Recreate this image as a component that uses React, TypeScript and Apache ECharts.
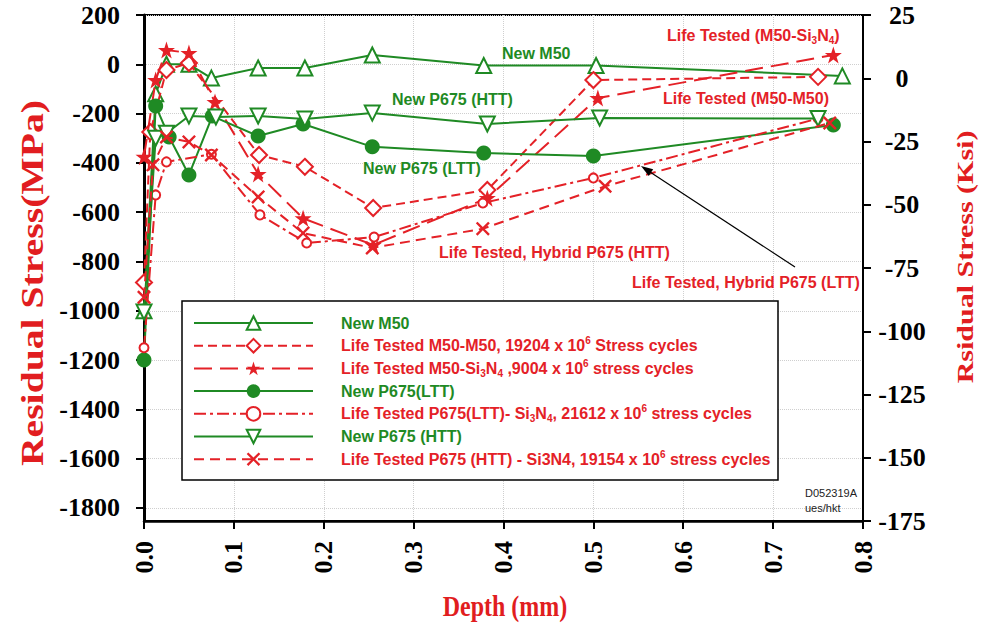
import React, { useEffect, useRef } from 'react';
import * as echarts from 'echarts';

// ---- colours and fonts ----
const GREEN = '#1f8a24';
const RED = '#e42127';
const TITLE_RED = '#e11d20';
const SERIF = '"Liberation Serif", "Times New Roman", serif';
const SANS = '"Liberation Sans", Arial, sans-serif';

// ---- axis ticks ----
const mpaTicks = [200, 0, -200, -400, -600, -800, -1000, -1200, -1400, -1600, -1800];
const ksiMin = -175;
const ksiMax = 25;
const ksiStep = 25;

// ---- residual stress profiles: depth (mm) and stress (MPa) ----
const newM50Depth = [0, 0.013, 0.025, 0.05, 0.075, 0.127, 0.179, 0.254, 0.378, 0.503, 0.777];
const newM50Stress = [-1000, -120, 0, 0, -56, -15, -15, 38, -5, -5, -47];

const lifeM50M50Depth = [0, 0.007, 0.025, 0.05, 0.128, 0.179, 0.255, 0.382, 0.5, 0.75];
const lifeM50M50Stress = [-885, -275, -23, 5, -368, -416, -583, -510, -64, -51];

const lifeM50SiDepth = [0, 0.013, 0.025, 0.05, 0.079, 0.127, 0.177, 0.255, 0.382, 0.505, 0.767];
const lifeM50SiStress = [-375, -64, 58, 46, -153, -445, -625, -733, -543, -137, 38];

const newLttDepth = [0, 0.013, 0.028, 0.05, 0.076, 0.127, 0.177, 0.254, 0.378, 0.5, 0.767];
const newLttStress = [-1200, -169, -295, -449, -210, -291, -242, -335, -360, -372, -246];

const lifeLttDepth = [0, 0.013, 0.025, 0.075, 0.129, 0.181, 0.256, 0.377, 0.5, 0.75];
const lifeLttStress = [-1150, -530, -396, -365, -611, -725, -701, -563, -461, -220];

const newHttDepth = [0, 0.013, 0.025, 0.05, 0.08, 0.127, 0.179, 0.254, 0.382, 0.507, 0.75];
const newHttStress = [-1005, -300, -280, -210, -214, -210, -222, -198, -242, -218, -220];

const lifeHttDepth = [0, 0.01, 0.025, 0.05, 0.075, 0.127, 0.177, 0.254, 0.377, 0.513, 0.763];
const lifeHttStress = [-945, -408, -295, -315, -368, -538, -685, -745, -667, -495, -238];

// ---- legend entries ----
const seriesNames = [
  'New M50',
  'Life Tested M50-M50, 19204 x 10^6 Stress cycles',
  'Life Tested M50-Si3N4 ,9004 x 10^6 stress cycles',
  'New P675(LTT)',
  'Life Tested P675(LTT)- Si3N4, 21612 x 10^6 stress cycles',
  'New P675 (HTT)',
  'Life Tested P675 (HTT) - Si3N4, 19154 x 10^6 stress cycles',
];
const legendLabels = [
  'New M50',
  'Life Tested M50-M50, 19204 x 10{sup|6} Stress cycles',
  'Life Tested M50-Si{sub|3}N{sub|4} ,9004 x 10{sup|6} stress cycles',
  'New P675(LTT)',
  'Life Tested P675(LTT)- Si{sub|3}N{sub|4}, 21612 x 10{sup|6} stress cycles',
  'New P675 (HTT)',
  'Life Tested P675 (HTT) - Si3N4, 19154 x 10{sup|6} stress cycles',
];

const STAR = 'path://M50,0L61.8,35.3L99,35.3L69,57.1L80.4,92.7L50,70.7L19.6,92.7L31,57.1L1,35.3L38.2,35.3Z';
const CROSS = 'path://M0,1.2L1.2,0L5,3.8L8.8,0L10,1.2L6.2,5L10,8.8L8.8,10L5,6.2L1.2,10L0,8.8L3.8,5Z';

type Def = {
  depth: number[];
  stress: number[];
  color: string;
  dash: any;
  symbol: string;
  size: number;
  rotate?: number;
};

const defs: Def[] = [
  { depth: newM50Depth, stress: newM50Stress, color: GREEN, dash: 'solid', symbol: 'emptyTriangle', size: 15 },
  { depth: lifeM50M50Depth, stress: lifeM50M50Stress, color: RED, dash: [9, 5], symbol: 'emptyDiamond', size: 16 },
  { depth: lifeM50SiDepth, stress: lifeM50SiStress, color: RED, dash: [18, 8], symbol: STAR, size: 17 },
  { depth: newLttDepth, stress: newLttStress, color: GREEN, dash: 'solid', symbol: 'circle', size: 15 },
  { depth: lifeLttDepth, stress: lifeLttStress, color: RED, dash: [12, 4, 3, 4], symbol: 'emptyCircle', size: 9 },
  { depth: newHttDepth, stress: newHttStress, color: GREEN, dash: 'solid', symbol: 'emptyTriangle', size: 15, rotate: 180 },
  { depth: lifeHttDepth, stress: lifeHttStress, color: RED, dash: [10, 6], symbol: CROSS, size: 14 },
];

const richSupSub = (color: string) => ({
  sup: { fontSize: 10, fontFamily: SANS, fontWeight: 'bold', color, lineHeight: 10, verticalAlign: 'top' },
  sub: { fontSize: 10, fontFamily: SANS, fontWeight: 'bold', color, lineHeight: 10, verticalAlign: 'bottom' },
});

const annotation = (text: string, x: number, y: number, fill: string) => ({
  type: 'text',
  x,
  y,
  z: 10,
  style: {
    text,
    fill,
    fontFamily: SANS,
    fontWeight: 'bold',
    fontSize: 16,
    lineHeight: 20,
    align: 'left',
    verticalAlign: 'middle',
    rich: {
      sub: { fontSize: 10, fontFamily: SANS, fontWeight: 'bold', fill, lineHeight: 10, verticalAlign: 'bottom' },
    },
  },
});

function buildOption() {
  const series = defs.map((d, i) => ({
    type: 'line',
    name: seriesNames[i],
    data: d.depth.map((x, k) => [x, d.stress[k]]),
    xAxisIndex: 0,
    yAxisIndex: 0,
    symbol: d.symbol,
    symbolSize: d.size,
    symbolRotate: d.rotate || 0,
    showAllSymbol: true,
    lineStyle: { color: d.color, width: 2, type: d.dash },
    itemStyle: { color: d.color },
    emphasis: { disabled: true },
    z: 3 + i,
  }));

  return {
    animation: false,
    backgroundColor: '#fff',
    grid: {
      left: 144,
      right: 122,
      top: 15,
      bottom: 102,
      show: true,
      borderColor: '#000',
      borderWidth: 2,
      containLabel: false,
      outerBoundsMode: 'none',
    },
    xAxis: {
      type: 'value',
      min: 0,
      max: 0.8,
      interval: 0.1,
      axisLine: { show: true, onZero: false, lineStyle: { color: '#000', width: 2.5 } },
      axisTick: { show: true, length: 8, lineStyle: { color: '#000', width: 2 } },
      axisLabel: {
        rotate: 90,
        margin: 20,
        formatter: (v: number) => v.toFixed(1),
        fontFamily: SERIF,
        fontWeight: 'bold',
        fontSize: 26,
        color: '#000',
      },
      splitLine: { show: true, lineStyle: { color: '#cfcfcf', type: 'dotted', width: 1 } },
    },
    yAxis: [
      {
        type: 'value',
        position: 'left',
        min: -1853,
        max: 200,
        axisLine: { show: true, onZero: false, lineStyle: { color: '#000', width: 3 } },
        axisTick: { show: true, length: 8, customValues: mpaTicks, lineStyle: { color: '#000', width: 2 } },
        axisLabel: {
          customValues: mpaTicks,
          formatter: (v: number) => String(v),
          margin: 24,
          fontFamily: SERIF,
          fontWeight: 'bold',
          fontSize: 26,
          color: '#000',
        },
        splitLine: { show: true, lineStyle: { color: '#cfcfcf', type: 'dotted', width: 1 } },
      },
      {
        type: 'value',
        position: 'right',
        min: ksiMin,
        max: ksiMax,
        interval: ksiStep,
        axisLine: { show: true, onZero: false, lineStyle: { color: '#000', width: 2 } },
        axisTick: { show: true, length: 8, lineStyle: { color: '#000', width: 2 } },
        axisLabel: {
          margin: 39,
          align: 'center',
          formatter: (v: number) => String(v),
          fontFamily: SERIF,
          fontWeight: 'bold',
          fontSize: 26,
          color: '#000',
        },
        splitLine: { show: false },
      },
    ],
    legend: {
      orient: 'vertical',
      left: 182,
      top: 301,
      itemWidth: 119,
      itemHeight: 17,
      itemGap: 2.7,
      padding: [12, 8, 11, 11],
      borderWidth: 0,
      backgroundColor: 'transparent',
      selectedMode: false,
      data: seriesNames.map((n, i) => ({ name: n, textStyle: { color: defs[i].color } })),
      formatter: (name: string) => legendLabels[seriesNames.indexOf(name)],
      textStyle: {
        fontFamily: SANS,
        fontWeight: 'bold',
        fontSize: 16,
        lineHeight: 20,
        padding: [0, 0, 0, 23],
        rich: richSupSub(RED),
      },
    },
    series,
    graphic: [
      // legend frame
      {
        type: 'rect',
        z: 1,
        shape: { x: 182, y: 301, width: 596, height: 179 },
        style: { fill: '#fff', stroke: '#000', lineWidth: 1.5 },
      },
      {
        type: 'text',
        x: 32,
        y: 283,
        rotation: Math.PI / 2,
        scaleX: 1.24,
        style: {
          text: 'Residual Stress(MPa)',
          fontFamily: SERIF,
          fontWeight: 'bold',
          fontSize: 32,
          fill: TITLE_RED,
          align: 'center',
          verticalAlign: 'middle',
        },
      },
      {
        type: 'text',
        x: 965,
        y: 257,
        rotation: Math.PI / 2,
        scaleX: 1.25,
        style: {
          text: 'Rsidual Stress (Ksi)',
          fontFamily: SERIF,
          fontWeight: 'bold',
          fontSize: 24,
          fill: TITLE_RED,
          align: 'center',
          verticalAlign: 'middle',
        },
      },
      {
        type: 'text',
        x: 505,
        y: 606,
        scaleY: 1.2,
        style: {
          text: 'Depth (mm)',
          fontFamily: SERIF,
          fontWeight: 'bold',
          fontSize: 24,
          fill: TITLE_RED,
          align: 'center',
          verticalAlign: 'middle',
        },
      },
      annotation('Life Tested (M50-Si{sub|3}N{sub|4})', 667, 35, RED),
      annotation('Life Tested (M50-M50)', 663, 98, RED),
      annotation('New M50', 502, 53, GREEN),
      annotation('New P675 (HTT)', 392, 99, GREEN),
      annotation('New P675 (LTT)', 363, 168, GREEN),
      annotation('Life Tested, Hybrid P675 (HTT)', 439, 252, RED),
      annotation('Life Tested, Hybrid P675 (LTT)', 632, 282, RED),
      {
        type: 'line',
        z: 10,
        shape: { x1: 795, y1: 267, x2: 650, y2: 172 },
        style: { stroke: '#000', lineWidth: 1.2 },
      },
      {
        type: 'polygon',
        z: 10,
        shape: { points: [[641, 166], [653.2, 169.2], [648.8, 175.9]] },
        style: { fill: '#000' },
      },
      {
        type: 'text',
        x: 805,
        y: 493,
        z: 10,
        style: { text: 'D052319A', fontFamily: SANS, fontSize: 11, fill: '#222', verticalAlign: 'middle' },
      },
      {
        type: 'text',
        x: 805,
        y: 508,
        z: 10,
        style: { text: 'ues/hkt', fontFamily: SANS, fontSize: 11, fill: '#222', verticalAlign: 'middle' },
      },
    ],
  };
}

export default function App() {
  const ref = useRef<HTMLDivElement>(null);

  useEffect(() => {
    if (!ref.current) return;
    const chart = echarts.init(ref.current, undefined, { renderer: 'svg' });
    chart.setOption(buildOption() as any);
    return () => {
      chart.dispose();
    };
  }, []);

  return (
    <div
      ref={ref}
      style={{ position: 'fixed', left: 0, top: 0, width: 985, height: 623, background: '#fff' }}
    />
  );
}
